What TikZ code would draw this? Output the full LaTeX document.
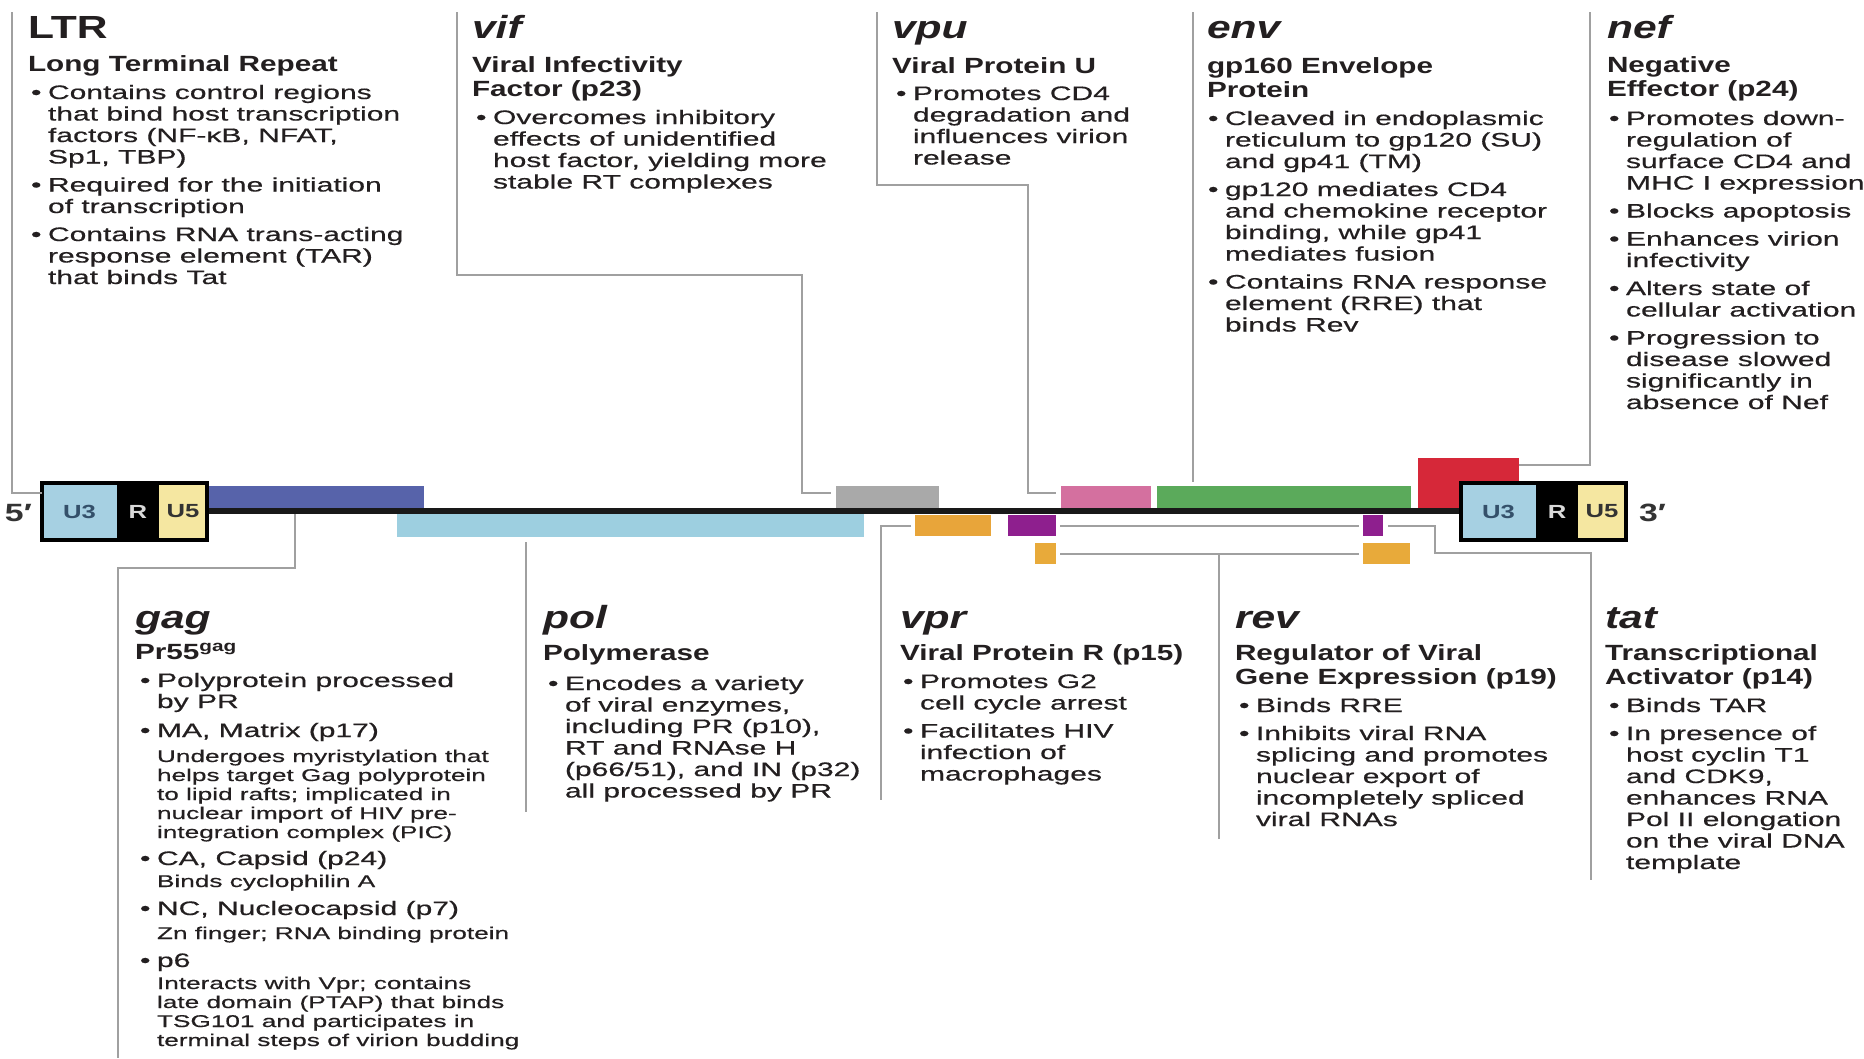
\documentclass[tikz,border=0pt]{standalone}
\usepackage{fontspec}
\setmainfont{Liberation Sans}
\newfontfamily\bodyf{Liberation Sans}[FakeStretch=1.54,FakeBold=0.5]
\newfontfamily\subf{Liberation Sans}[FakeStretch=1.35]
\newfontfamily\ttlf{Liberation Sans}[FakeStretch=1.33]
\definecolor{txtc}{HTML}{231F20}
\definecolor{leadc}{HTML}{A0A0A0}
\definecolor{gagc}{HTML}{5763AA}
\definecolor{polc}{HTML}{9DCFE0}
\definecolor{vifc}{HTML}{A9A9A9}
\definecolor{vprc}{HTML}{E8A53A}
\definecolor{tatc}{HTML}{8E1F8E}
\definecolor{revc}{HTML}{E8AA3A}
\definecolor{vpuc}{HTML}{D4709F}
\definecolor{envc}{HTML}{5BAA5B}
\definecolor{nefc}{HTML}{D62839}
\definecolor{u3c}{HTML}{A6D0E2}
\definecolor{u5c}{HTML}{F5E7A1}
\definecolor{u3t}{HTML}{34506A}
\newcommand\GT[1]{{\ttlf\bfseries\itshape\fontsize{32}{34}\selectfont #1}}
\newcommand\GTu[1]{{\ttlf\bfseries\fontsize{32}{34}\selectfont #1}}
\newcommand\GS[1]{\vtop{\subf\bfseries\fontsize{22}{24}\selectfont\lineskiplimit=-100pt #1}}
\newcommand\GB[1]{\vtop{\bodyf\fontsize{19.5}{21.5}\selectfont\lineskiplimit=-100pt #1}}
\newcommand\GBg[1]{\vtop{\bodyf\fontsize{19.5}{19}\selectfont\lineskiplimit=-100pt #1}}
\newcommand\LN[1]{\hbox{#1}}
\newcommand\BL[1]{\hbox{\hbox to 17pt{\textbullet\hss}#1}}
\newcommand\CL[1]{\hbox{\kern17pt #1}}
\newcommand\SL[1]{\hbox{\kern17pt\fontsize{17}{19}\selectfont #1}}
\newcommand\GP[1]{\kern#1pt}
\begin{document}
\begin{tikzpicture}[x=1pt,y=-1pt,
  txt/.style={anchor=base west, inner sep=0pt, outer sep=0pt, text=txtc},
  bar/.style={anchor=north west, inner sep=0pt, outer sep=0pt, draw=none},
  cell/.style={anchor=north west, inner sep=0pt, outer sep=0pt, draw=none, minimum height=57pt, font=\subf\bfseries\fontsize{19}{20}\selectfont},
  frame/.style={anchor=north west, inner sep=0pt, outer sep=0pt, draw=black, line width=3.5pt, minimum width=165pt, minimum height=57pt},
  lead/.style={draw=leadc, line width=2pt},
  genome/.style={draw=black!90, line width=6pt}]
\fill[white] (0,0) rectangle (1864,1058);
\useasboundingbox (0,0) rectangle (1864,1058);

% ---------- coordinates for leader ends ----------
\coordinate (ltrTop) at (12,12);
\coordinate (vifTop) at (457,12);
\coordinate (vifElb) at (802,275);
\coordinate (vpuTop) at (877,12);
\coordinate (vpuElb) at (1028,185);
\coordinate (envTop) at (1193,12);
\coordinate (nefTop) at (1590,12);
\coordinate (gagElb) at (118,568);
\coordinate (gagBot) at (118,1058);
\coordinate (polBot) at (526,812);
\coordinate (vprBot) at (881,800);
\coordinate (revBot) at (1219,839);
\coordinate (tatElb) at (1591,553);
\coordinate (tatBot) at (1591,880);
\coordinate (gL) at (100,511);
\coordinate (gR) at (1540,511);

% ---------- gene bars ----------
\node[bar, fill=gagc, minimum width=216pt, minimum height=22pt] (gagbar) at (208,486) {};
\node[bar, fill=polc, minimum width=467pt, minimum height=23pt] (polbar) at (397,514) {};
\node[bar, fill=vifc, minimum width=103pt, minimum height=22pt] (vifbar) at (836,486) {};
\node[bar, fill=vprc, minimum width=76pt, minimum height=21pt] (vprbar) at (915,515) {};
\node[bar, fill=tatc, minimum width=48pt, minimum height=21pt] (tat1) at (1008,515) {};
\node[bar, fill=revc, minimum width=21pt, minimum height=21pt] (rev1) at (1035,543) {};
\node[bar, fill=vpuc, minimum width=90pt, minimum height=22pt] (vpubar) at (1061,486) {};
\node[bar, fill=envc, minimum width=254pt, minimum height=22pt] (envbar) at (1157,486) {};
\node[bar, fill=nefc, minimum width=101pt, minimum height=50pt] (nefbar) at (1418,458) {};
\node[bar, fill=tatc, minimum width=20pt, minimum height=21pt] (tat2) at (1363,515) {};
\node[bar, fill=revc, minimum width=47pt, minimum height=21pt] (rev2) at (1363,543) {};

% ---------- genome line ----------
\draw[genome] (gL) -- (gR);

% ---------- LTR boxes ----------
\node[cell, fill=u3c, minimum width=75pt, text=u3t] (u3L) at (42,483) {U3};
\node[cell, fill=black, minimum width=42pt, text=black!15] (rL) at (117,483) {R};
\node[cell, fill=u5c, minimum width=48pt, text=black!80] (u5L) at (159,483) {U5};
\node[frame] (ltrL) at (42,483) {};
\node[cell, fill=u3c, minimum width=75pt, text=u3t] (u3R) at (1461,483) {U3};
\node[cell, fill=black, minimum width=42pt, text=black!15] (rR) at (1536,483) {R};
\node[cell, fill=u5c, minimum width=48pt, text=black!80] (u5R) at (1578,483) {U5};
\node[frame] (ltrR) at (1461,483) {};
\node[txt, text=black!80] (five) at (5,521) {\subf\bfseries\fontsize{25}{26}\selectfont 5′};
\node[txt, text=black!80] (three) at (1639,521) {\subf\bfseries\fontsize{25}{26}\selectfont 3′};

% ---------- leaders ----------
\draw[lead] (ltrTop) |- ([yshift=19pt]ltrL.west);
\draw[lead, shorten >=5pt] (vifTop) |- (vifElb) |- ([yshift=4pt]vifbar.west);
\draw[lead, shorten >=5pt] (vpuTop) |- (vpuElb) |- ([yshift=4pt]vpubar.west);
\draw[lead, shorten >=4pt] (envTop) -- (envTop |- envbar.north);
\draw[lead] (nefTop) |- ([yshift=-7pt]nefbar.north east);
\draw[lead] ([xshift=87pt]gagbar.south west) ++(0,6) |- (gagElb) -- (gagBot);
\draw[lead, shorten <=5pt] (polbar.south -| polBot) -- (polBot);
\draw[lead, shorten <=4pt] (vprbar.west) -| (vprBot);
\draw[lead, shorten <=4pt, shorten >=4pt] (rev1.east) -- (rev2.west);
\draw[lead] (revBot) -- (revBot |- rev1.east);
\draw[lead, shorten <=4pt, shorten >=4pt] (tat1.east) -- (tat2.west);
\draw[lead, shorten <=5pt] (tat2.east) -- ++(52,0) |- (tatElb) -- (tatBot);

% ---------- top texts ----------
\node[txt] (ltrT) at (28,38) {\GTu{LTR}};
\node[txt] (ltrS) at (28,71) {\GS{\LN{Long Terminal Repeat}}};
\node[txt] (ltrB) at (31,99) {\GB{\BL{Contains control regions}\CL{that bind host transcription}\CL{factors (NF-κB, NFAT,}\CL{Sp1, TBP)}\GP{6.5}\BL{Required for the initiation}\CL{of transcription}\GP{6.5}\BL{Contains RNA trans-acting}\CL{response element (TAR)}\CL{that binds Tat}}};

\node[txt] (vifT) at (472,38) {\GT{vif}};
\node[txt] (vifS) at (472,72) {\GS{\LN{Viral Infectivity}\LN{Factor (p23)}}};
\node[txt] (vifB) at (476,124) {\GB{\BL{Overcomes inhibitory}\CL{effects of unidentified}\CL{host factor, yielding more}\CL{stable RT complexes}}};

\node[txt] (vpuT) at (892,38) {\GT{vpu}};
\node[txt] (vpuS) at (892,73) {\GS{\LN{Viral Protein U}}};
\node[txt] (vpuB) at (896,100) {\GB{\BL{Promotes CD4}\CL{degradation and}\CL{influences virion}\CL{release}}};

\node[txt] (envT) at (1207,38) {\GT{env}};
\node[txt] (envS) at (1207,73) {\GS{\LN{gp160 Envelope}\LN{Protein}}};
\node[txt] (envB) at (1208,125) {\GB{\BL{Cleaved in endoplasmic}\CL{reticulum to gp120 (SU)}\CL{and gp41 (TM)}\GP{6.5}\BL{gp120 mediates CD4}\CL{and chemokine receptor}\CL{binding, while gp41}\CL{mediates fusion}\GP{6.5}\BL{Contains RNA response}\CL{element (RRE) that}\CL{binds Rev}}};

\node[txt] (nefT) at (1607,38) {\GT{nef}};
\node[txt] (nefS) at (1607,72) {\GS{\LN{Negative}\LN{Effector (p24)}}};
\node[txt] (nefB) at (1609,125) {\GB{\BL{Promotes down-}\CL{regulation of}\CL{surface CD4 and}\CL{MHC I expression}\GP{6.5}\BL{Blocks apoptosis}\GP{6.5}\BL{Enhances virion}\CL{infectivity}\GP{6.5}\BL{Alters state of}\CL{cellular activation}\GP{6.5}\BL{Progression to}\CL{disease slowed}\CL{significantly in}\CL{absence of Nef}}};

% ---------- bottom texts ----------
\node[txt] (gagT) at (135,628) {\GT{gag}};
\node[txt] (gagS) at (135,659) {\GS{\LN{Pr55\textsuperscript{gag}}}};
\node[txt] (gagB) at (140,687) {\GBg{\BL{Polyprotein processed}\GP{2}\CL{by PR}\GP{10}\BL{MA, Matrix (p17)}\GP{6}\SL{Undergoes myristylation that}\SL{helps target Gag polyprotein}\SL{to lipid rafts; implicated in}\SL{nuclear import of HIV pre-}\SL{integration complex (PIC)}\GP{8}\BL{CA, Capsid (p24)}\GP{3}\SL{Binds cyclophilin A}\GP{9}\BL{NC, Nucleocapsid (p7)}\GP{5}\SL{Zn finger; RNA binding protein}\GP{9}\BL{p6}\GP{3}\SL{Interacts with Vpr; contains}\SL{late domain (PTAP) that binds}\SL{TSG101 and participates in}\SL{terminal steps of virion budding}}};

\node[txt] (polT) at (543,628) {\GT{pol}};
\node[txt] (polS) at (543,660) {\GS{\LN{Polymerase}}};
\node[txt] (polB) at (548,690) {\GB{\BL{Encodes a variety}\CL{of viral enzymes,}\CL{including PR (p10),}\CL{RT and RNAse H}\CL{(p66/51), and IN (p32)}\CL{all processed by PR}}};

\node[txt] (vprT) at (900,628) {\GT{vpr}};
\node[txt] (vprS) at (900,660) {\GS{\LN{Viral Protein R (p15)}}};
\node[txt] (vprB) at (903,688) {\GB{\BL{Promotes G2}\CL{cell cycle arrest}\GP{6.5}\BL{Facilitates HIV}\CL{infection of}\CL{macrophages}}};

\node[txt] (revT) at (1235,628) {\GT{rev}};
\node[txt] (revS) at (1235,660) {\GS{\LN{Regulator of Viral}\LN{Gene Expression (p19)}}};
\node[txt] (revB) at (1239,712) {\GB{\BL{Binds RRE}\GP{6.5}\BL{Inhibits viral RNA}\CL{splicing and promotes}\CL{nuclear export of}\CL{incompletely spliced}\CL{viral RNAs}}};

\node[txt] (tatT) at (1605,628) {\GT{tat}};
\node[txt] (tatS) at (1605,660) {\GS{\LN{Transcriptional}\LN{Activator (p14)}}};
\node[txt] (tatB) at (1609,712) {\GB{\BL{Binds TAR}\GP{6.5}\BL{In presence of}\CL{host cyclin T1}\CL{and CDK9,}\CL{enhances RNA}\CL{Pol II elongation}\CL{on the viral DNA}\CL{template}}};
\end{tikzpicture}
\end{document}
